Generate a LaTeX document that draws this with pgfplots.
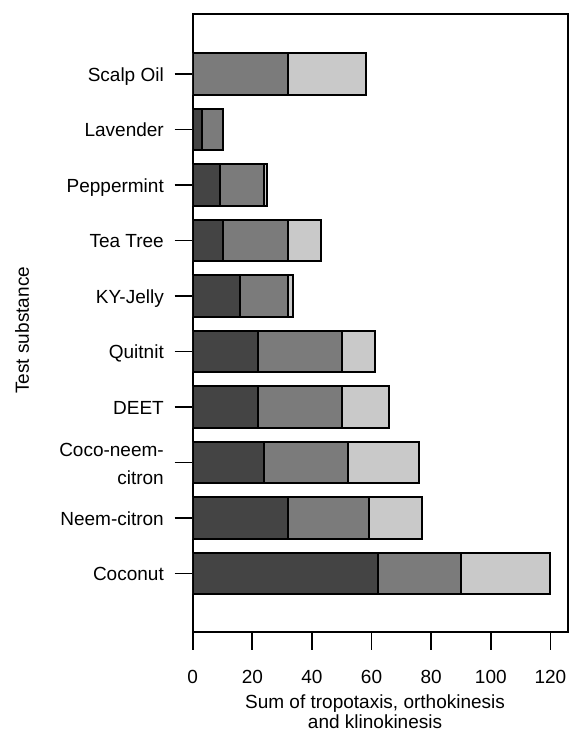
\documentclass[border=0pt]{standalone}
\usepackage{pgfplots}
\pgfplotsset{compat=1.18}
\usepackage{fontspec}
\setmainfont{Liberation Sans}
\definecolor{cdark}{HTML}{444444}
\definecolor{cmid}{HTML}{7B7B7B}
\definecolor{clight}{HTML}{C9C9C9}
\newcommand\ff{\fontsize{19pt}{19.5pt}\selectfont}
\begin{document}
\begin{tikzpicture}
\path[use as bounding box] (0,0) rectangle (570pt,734pt);
\begin{axis}[
  at={(192.7pt,102.3pt)}, anchor=south west,
  scale only axis, width=375.6pt, height=617.7pt,
  xbar stacked, bar width=41.7pt,
  xmin=0, xmax=126, ymin=-1.05, ymax=10.08,
  xtick={0,20,...,120},
  ytick={0,...,9},
  yticklabels={Coconut, Neem-citron, {\raisebox{-14.8pt}{\begin{tabular}[b]{@{}r@{}}Coco-neem-\\[8.5pt]citron\end{tabular}}}, DEET, Quitnit, KY-Jelly, Tea Tree, Peppermint, Lavender, Scalp Oil},
  /pgf/number format/assume math mode=true,
  tick align=outside, xtick pos=bottom, ytick pos=left,
  major tick length=18pt,
  axis line style={line width=1.8pt},
  every tick/.style={line width=1.8pt, black},
  tick label style={font=\ff},
  yticklabel style={anchor=base east, inner sep=0pt, xshift=-10.7pt, yshift=-7.5pt},
  xticklabel style={anchor=base, inner sep=0pt, yshift=-34.3pt},
  xlabel={Sum of tropotaxis, orthokinesis\\and klinokinesis},
  xlabel style={font=\ff, align=center, at={(axis description cs:0.4855,0)}, anchor=north, inner sep=0pt, yshift=-63.3pt},
  ylabel={Test substance},
  ylabel style={font=\ff, at={(axis description cs:-0.4545,0.488)}, anchor=center, inner sep=0pt},
]
\addplot[fill=cdark, draw=black, line width=2pt] coordinates {(62,0) (32,1) (24,2) (22,3) (22,4) (16,5) (10,6) (9,7) (3,8) (0,9)};
\addplot[fill=cmid, draw=black, line width=2pt] coordinates {(28,0) (27,1) (28,2) (28,3) (28,4) (16,5) (22,6) (15,7) (7,8) (32,9)};
\addplot[fill=clight, draw=black, line width=2pt] coordinates {(30,0) (18,1) (24,2) (16,3) (11,4) (1.6,5) (11,6) (1,7) (0,8) (26,9)};
\end{axis}
\end{tikzpicture}
\end{document}
